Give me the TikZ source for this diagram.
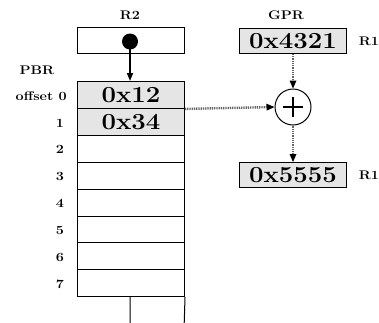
\documentclass[tikz,border=0pt]{standalone}
\usepackage{fontspec}
\usepackage{graphicx}
\usetikzlibrary{arrows.meta}
\newcommand{\lbl}[1]{\scalebox{1.15}[1]{\bfseries #1}}
\newcommand{\val}[1]{\scalebox{1.12}[1]{\fontsize{23}{25}\selectfont\bfseries #1}}
\begin{document}
\begin{tikzpicture}[x=1pt,y=-1pt,
  reg/.style={draw,line width=1pt,minimum width=107pt,minimum height=26pt,inner sep=0pt,anchor=north west},
  cell/.style={draw,line width=1pt,minimum width=107pt,minimum height=26.9pt,inner sep=0pt,anchor=north west},
  shaded/.style={fill=black!10},
  lab/.style={inner sep=0pt,font=\fontsize{12.5}{14}\selectfont},
  flow/.style={draw=black!60,line width=2.4pt,dash pattern=on 1pt off 0.8pt,
    -{Triangle[length=8pt,width=7pt,color=black,line width=0pt,sep=0pt]}},
  ptr/.style={line width=1.6pt,-{Triangle[length=8pt,width=6pt]}}]
\useasboundingbox (0,0) rectangle (379,322);

% register R2 holding a pointer
\node[reg] (r2) at (77,27) {};
\node[circle,fill=black,inner sep=0pt,minimum size=16pt] (dot) at (130,41.5) {};
\node[lab] at (130,15) {\lbl{R2}};

% memory column addressed through PBR
\node[cell,shaded] (m0) at (77,81) {\val{0x12}};
\node[cell,shaded] (m1) at (77,107.9) {\val{0x34}};
\foreach \i [evaluate=\i as \y using 81+26.9*\i] in {2,...,7}
  \node[cell] (m\i) at (77,\y) {};
\draw[line width=1pt] (130,296) -- (130,330) (m7.south east) -- (184,330);

\node[lab] at (37,70) {\lbl{PBR}};
\node[lab,anchor=east] at (67,96) {\lbl{offset 0}};
\foreach \i [evaluate=\i as \y using 96+26.9*\i] in {1,...,7}
  \node[lab] at (60,\y) {\lbl{\i}};

% general purpose registers and the adder
\node[reg,shaded,minimum height=25pt] (g1) at (239,28) {\val{0x4321}};
\node[reg,shaded,minimum height=25pt] (g2) at (239,162) {\val{0x5555}};
\node[lab] at (286,15) {\lbl{GPR}};
\node[lab] at (369,41) {\lbl{R1}};
\node[lab] at (369,175) {\lbl{R1}};
\node[circle,draw,line width=1pt,minimum size=36pt,inner sep=0pt,
  path picture={\draw[line width=2.4pt] (path picture bounding box.center) +(-10,0) -- +(10,0)
    (path picture bounding box.center) +(0,-10) -- +(0,10);}] (add) at (293,107) {};

% connectors
\draw[ptr] (dot.center) -- (m0.north -| dot.center);
\draw[flow] (m0.south east) -- (add.west);
\draw[flow] (g1.south -| add.north) -- (add.north);
\draw[flow] (add.south) -- (g2.north -| add.south);
\end{tikzpicture}
\end{document}
